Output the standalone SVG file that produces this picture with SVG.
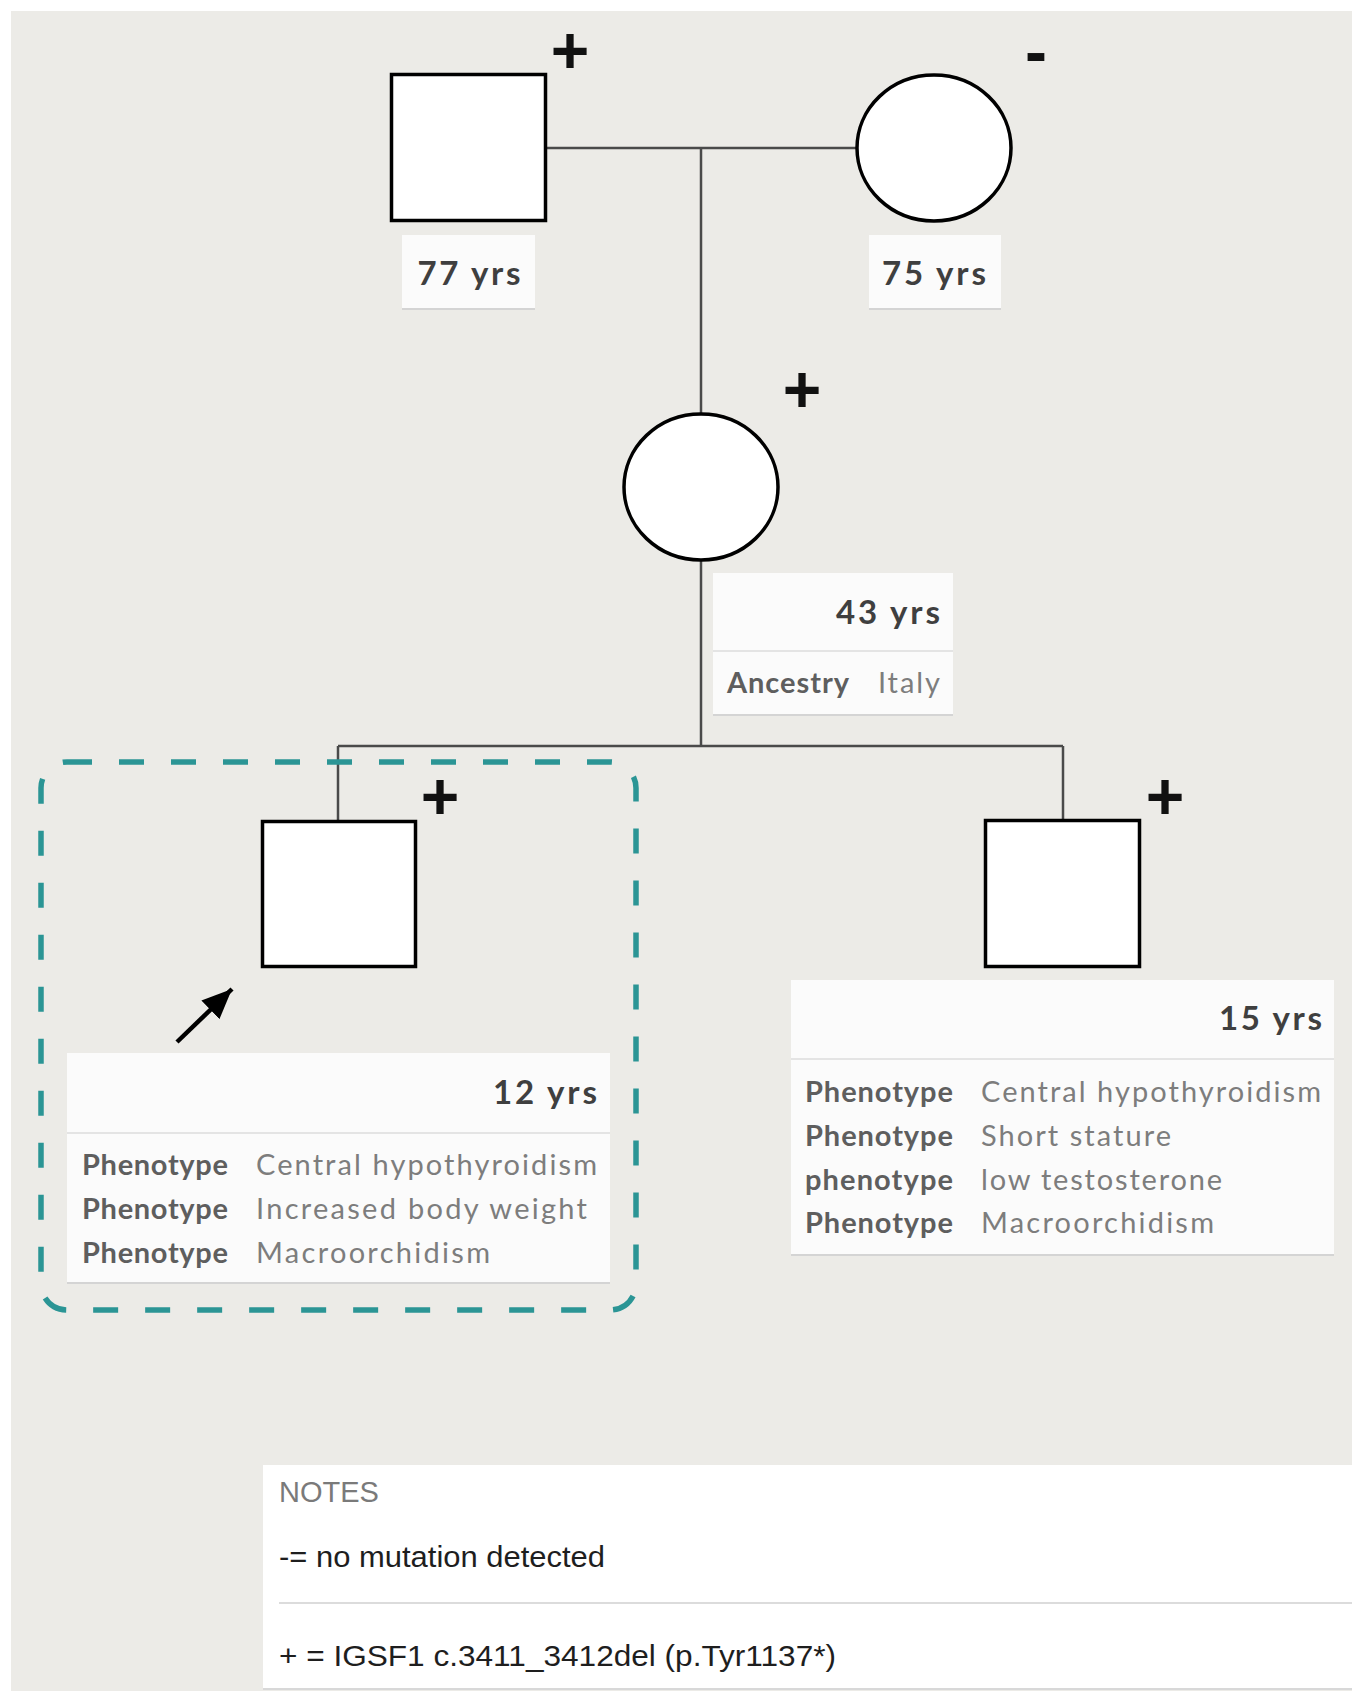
<svg xmlns="http://www.w3.org/2000/svg" width="1363" height="1691" viewBox="0 0 1363 1691">
<defs>
<style>
.bg{fill:#ecebe7}
.sym{fill:#ffffff;stroke:#000;stroke-width:3.5}
.conn{stroke:#4a4a4a;stroke-width:2.5;fill:none}
.mark{font-family:"Liberation Sans",Arial,sans-serif;font-weight:700;font-size:66px;fill:#111;text-anchor:middle}
.card{fill:#fbfbfb}
.cardline{stroke:#e4e4e4;stroke-width:2}
.shadow{stroke:#d4d4d4;stroke-width:2}
.age{font-family:Lato,"Open Sans",sans-serif;font-weight:700;font-size:33px;fill:#3f3f3f}
.lbl{font-family:Lato,"Open Sans",sans-serif;font-weight:700;font-size:29px;fill:#5e5e5e}
.val{font-family:Lato,"Open Sans",sans-serif;font-weight:400;font-size:29px;fill:#7d7d7d}
.note{font-family:"Liberation Sans",Arial,sans-serif;font-size:30px;fill:#1e1e1e}
.notehead{font-family:"Liberation Sans",Arial,sans-serif;font-size:29px;fill:#7a7a7a}
.proband{fill:none;stroke:#2b9595;stroke-width:5.5;stroke-dasharray:25 27}
</style>
<marker id="ah" markerUnits="userSpaceOnUse" markerWidth="30" markerHeight="26" refX="30" refY="13" orient="auto">
<path d="M0,0 L30,13 L0,26 z" fill="#000"/>
</marker>
</defs>
<rect x="0" y="0" width="1363" height="1691" fill="#ffffff"/>
<rect class="bg" x="11" y="11" width="1341" height="1680"/>

<g id="connectors">
<path class="conn" d="M547 148 H858"/>
<path class="conn" d="M701 148 V413"/>
<path class="conn" d="M701 561 V746"/>
<path class="conn" d="M338 746 H1063"/>
<path class="conn" d="M338 746 V820"/>
<path class="conn" d="M1063 746 V820"/>
</g>

<g id="grandfather">
<rect class="sym" x="391.5" y="74.5" width="154" height="146"/>
<text class="mark" x="570" y="73">+</text>
<rect class="card" x="402" y="235" width="133" height="73"/>
<line class="shadow" x1="402" y1="309" x2="535" y2="309"/>
<text class="age" x="469" y="285" text-anchor="middle" textLength="103" lengthAdjust="spacing">77 yrs</text>
</g>

<g id="grandmother">
<ellipse class="sym" cx="934" cy="148" rx="77" ry="73"/>
<text class="mark" x="1036" y="74">-</text>
<rect class="card" x="869" y="235" width="132" height="73"/>
<line class="shadow" x1="869" y1="309" x2="1001" y2="309"/>
<text class="age" x="934" y="285" text-anchor="middle" textLength="104" lengthAdjust="spacing">75 yrs</text>
</g>

<g id="mother">
<ellipse class="sym" cx="701" cy="487" rx="77" ry="73"/>
<text class="mark" x="802" y="412">+</text>
<rect class="card" x="713" y="573" width="240" height="142"/>
<line class="cardline" x1="713" y1="651" x2="953" y2="651"/>
<line class="shadow" x1="713" y1="715" x2="953" y2="715"/>
<text class="age" x="940" y="624" text-anchor="end" textLength="104" lengthAdjust="spacing">43 yrs</text>
<text class="lbl" x="727" y="693" textLength="122" lengthAdjust="spacing">Ancestry</text>
<text class="val" x="940" y="693" text-anchor="end" textLength="62" lengthAdjust="spacing">Italy</text>
</g>

<g id="proband">
<rect class="proband" x="41" y="762" width="595" height="548" rx="26" ry="26"/>
<rect class="sym" x="262.5" y="821.5" width="153" height="145"/>
<text class="mark" x="440" y="819">+</text>
<line x1="177" y1="1042" x2="232" y2="989" stroke="#000" stroke-width="4.5" marker-end="url(#ah)"/>
<rect class="card" x="67" y="1053" width="543" height="230"/>
<line class="cardline" x1="67" y1="1133" x2="610" y2="1133"/>
<line class="shadow" x1="67" y1="1283" x2="610" y2="1283"/>
<text class="age" x="597" y="1104" text-anchor="end" textLength="104" lengthAdjust="spacing">12 yrs</text>
<text class="lbl" x="82" y="1175" textLength="146" lengthAdjust="spacing">Phenotype</text>
<text class="val" x="256" y="1175" textLength="341" lengthAdjust="spacing">Central hypothyroidism</text>
<text class="lbl" x="82" y="1219" textLength="146" lengthAdjust="spacing">Phenotype</text>
<text class="val" x="256" y="1219" textLength="331" lengthAdjust="spacing">Increased body weight</text>
<text class="lbl" x="82" y="1263" textLength="146" lengthAdjust="spacing">Phenotype</text>
<text class="val" x="256" y="1263" textLength="234" lengthAdjust="spacing">Macroorchidism</text>
</g>

<g id="brother">
<rect class="sym" x="985.5" y="820.5" width="154" height="146"/>
<text class="mark" x="1165" y="819">+</text>
<rect class="card" x="791" y="980" width="543" height="275"/>
<line class="cardline" x1="791" y1="1059" x2="1334" y2="1059"/>
<line class="shadow" x1="791" y1="1255" x2="1334" y2="1255"/>
<text class="age" x="1322" y="1030" text-anchor="end" textLength="103" lengthAdjust="spacing">15 yrs</text>
<text class="lbl" x="805" y="1102" textLength="148" lengthAdjust="spacing">Phenotype</text>
<text class="val" x="981" y="1102" textLength="340" lengthAdjust="spacing">Central hypothyroidism</text>
<text class="lbl" x="805" y="1146" textLength="148" lengthAdjust="spacing">Phenotype</text>
<text class="val" x="981" y="1146" textLength="190" lengthAdjust="spacing">Short stature</text>
<text class="lbl" x="805" y="1190" textLength="148" lengthAdjust="spacing">phenotype</text>
<text class="val" x="981" y="1190" textLength="241" lengthAdjust="spacing">low testosterone</text>
<text class="lbl" x="805" y="1233" textLength="148" lengthAdjust="spacing">Phenotype</text>
<text class="val" x="981" y="1233" textLength="233" lengthAdjust="spacing">Macroorchidism</text>
</g>

<g id="notes">
<rect x="263" y="1465" width="1089" height="224" fill="#ffffff"/>
<line x1="263" y1="1689" x2="1352" y2="1689" stroke="#d8d8d8" stroke-width="2"/>
<text class="notehead" x="279" y="1502">NOTES</text>
<text class="note" x="279" y="1567" textLength="326" lengthAdjust="spacingAndGlyphs">-= no mutation detected</text>
<line x1="279" y1="1603" x2="1352" y2="1603" stroke="#dcdcdc" stroke-width="2"/>
<text class="note" x="279" y="1666" textLength="557" lengthAdjust="spacingAndGlyphs">+ = IGSF1 c.3411_3412del (p.Tyr1137*)</text>
</g>
</svg>
